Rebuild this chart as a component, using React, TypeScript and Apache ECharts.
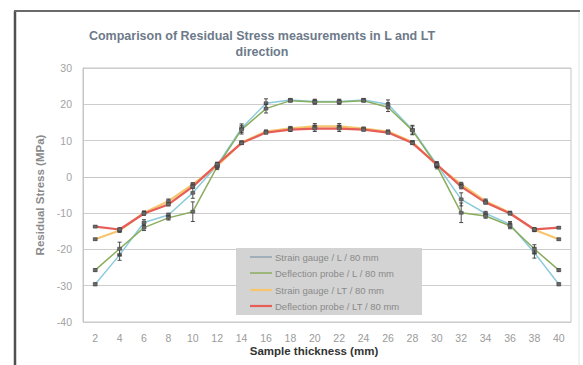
import React, { useEffect, useRef } from "react";
import * as echarts from "echarts";

const categories = ["2","4","6","8","10","12","14","16","18","20","22","24","26","28","30","32","34","36","38","40"];
const yTicks = [-40, -30, -20, -10, 0, 10, 20, 30];

const seriesNames = [
  "Strain gauge / L / 80 mm",
  "Deflection probe / L / 80 mm",
  "Strain gauge / LT / 80 mm",
  "Deflection probe / LT / 80 mm",
];
const strainL = [-29.6, -21.5, -12.6, -10.5, -4.4, 3.2, 13.4, 20.3, 21.2, 20.8, 20.8, 21.2, 20.0, 13.0, 3.4, -6.2, -10.1, -13.1, -20.9, -29.6];
const deflL = [-25.7, -19.8, -14.0, -11.3, -9.6, 2.8, 13.0, 18.8, 21.0, 20.6, 20.6, 21.0, 19.2, 12.8, 3.0, -9.9, -10.8, -13.5, -19.9, -25.7];
const strainLT = [-17.2, -14.8, -9.9, -6.7, -2.1, 3.0, 9.5, 12.5, 13.4, 13.9, 13.9, 13.3, 12.5, 9.6, 3.2, -2.1, -6.7, -9.9, -14.6, -17.2];
const deflLT = [-13.7, -14.5, -10.1, -7.6, -2.7, 3.5, 9.3, 12.2, 13.0, 13.3, 13.3, 13.0, 12.2, 9.3, 3.4, -2.7, -7.1, -10.1, -14.5, -14.0];

const errStrainL = [0.4, 1.5, 0.8, 0.5, 1.5, 0.8, 1.2, 1.2, 0.4, 0.6, 0.6, 0.4, 1.2, 1.2, 0.8, 1.8, 0.6, 0.8, 1.5, 0.4];
const errDeflL = [0.4, 1.8, 0.8, 0.6, 2.7, 0.8, 1.2, 1.2, 0.4, 0.6, 0.6, 0.4, 1.2, 1.2, 0.8, 2.7, 0.6, 0.8, 1.2, 0.4];
const errStrainLT = [0.3, 0.5, 0.5, 0.6, 0.5, 0.5, 0.4, 0.4, 0.5, 0.8, 0.8, 0.4, 0.4, 0.4, 0.6, 0.6, 0.6, 0.4, 0.5, 0.3];
const errDeflLT = [0.3, 0.5, 0.5, 0.4, 0.5, 0.5, 0.4, 0.4, 0.5, 0.8, 0.8, 0.4, 0.4, 0.4, 0.6, 0.6, 0.4, 0.4, 0.5, 0.3];

const colors = ["#8ccbdc", "#8aad5e", "#f6c56e", "#e65e57"];
const widths = [1.5, 1.5, 2.2, 2.2];

const allValues = [strainL, deflL, strainLT, deflLT];
const allErrors = [errStrainL, errDeflL, errStrainLT, errDeflLT];

export default function App() {
  const ref = useRef<HTMLDivElement>(null);
  useEffect(() => {
    if (!ref.current) return;
    const chart = echarts.init(ref.current, undefined, { renderer: "svg" });

    const lineSeries = allValues.map((vals, i) => ({
      name: seriesNames[i],
      type: "line",
      data: vals,
      showSymbol: false,
      symbol: "none",
      lineStyle: { color: colors[i], width: widths[i] },
      itemStyle: { color: colors[i] },
      z: 2 + i,
    }));

    const errSeries = allValues.map((vals, i) => ({
      type: "custom",
      z: 10,
      data: vals.map((v, j) => [j, v, v - allErrors[i][j], v + allErrors[i][j]]),
      renderItem: (params: any, api: any) => {
        const x = api.value(0);
        const c = api.coord([x, api.value(1)]);
        const lo = api.coord([x, api.value(2)]);
        const hi = api.coord([x, api.value(3)]);
        const cap = 2;
        const st = { stroke: "#3a3a3a", lineWidth: 0.9 };
        return {
          type: "group",
          children: [
            { type: "line", shape: { x1: c[0], y1: lo[1], x2: c[0], y2: hi[1] }, style: st },
            { type: "line", shape: { x1: c[0] - cap, y1: lo[1], x2: c[0] + cap, y2: lo[1] }, style: st },
            { type: "line", shape: { x1: c[0] - cap, y1: hi[1], x2: c[0] + cap, y2: hi[1] }, style: st },
            { type: "rect", shape: { x: c[0] - 2, y: c[1] - 1.5, width: 4, height: 3 }, style: { fill: "#6a6a6a", stroke: "#444", lineWidth: 0.5 } },
          ],
        };
      },
    }));

    const legendX = 236, legendY = 248;
    const rowYs = [257, 273, 290, 306];
    const legendGraphics: any[] = [
      { type: "rect", shape: { x: legendX, y: legendY, width: 186, height: 67 }, style: { fill: "#d3d3d3" }, z: 20 },
    ];
    seriesNames.forEach((n, i) => {
      legendGraphics.push({
        type: "line",
        shape: { x1: 250, y1: rowYs[i], x2: 272, y2: rowYs[i] },
        style: { stroke: i === 0 ? "#8fa3b0" : colors[i], lineWidth: widths[i] },
        z: 21,
      });
      legendGraphics.push({
        type: "text",
        x: 275,
        y: rowYs[i],
        style: { text: n, fill: "#8a8a8a", font: "9.5px Arial", textVerticalAlign: "middle" },
        z: 21,
      });
    });

    chart.setOption({
      animation: false,
      backgroundColor: "#ffffff",
      grid: { left: 83, top: 68, width: 488, height: 254, show: true, borderColor: "#c6c6c6", borderWidth: 1, backgroundColor: "transparent" },
      xAxis: {
        type: "category",
        data: categories,
        boundaryGap: true,
        axisLine: { show: true, lineStyle: { color: "#c6c6c6" } },
        axisTick: { show: false },
        axisLabel: { color: "#9a9a9a", fontSize: 10.5, fontFamily: "Arial", margin: 10 },
        splitLine: { show: false },
      },
      yAxis: {
        type: "value",
        min: yTicks[0],
        max: yTicks[yTicks.length - 1],
        interval: 10,
        name: "Residual Stress (MPa)",
        nameLocation: "middle",
        nameGap: 36,
        nameTextStyle: { color: "#8a8a8a", fontSize: 11.5, fontWeight: "bold", fontFamily: "Arial" },
        axisLine: { show: true, lineStyle: { color: "#c6c6c6" } },
        axisTick: { show: false },
        axisLabel: { color: "#a2a2a2", fontSize: 10.5, fontFamily: "Arial", margin: 11 },
        splitLine: { show: true, lineStyle: { color: "#cdcdcd", width: 1 } },
      },
      graphic: [
        { type: "line", shape: { x1: 15, y1: 11, x2: 15, y2: 365 }, style: { stroke: "#505050", lineWidth: 2.5 } },
        { type: "line", shape: { x1: 14, y1: 11, x2: 580, y2: 11 }, style: { stroke: "#6a6a6a", lineWidth: 2 } },
        { type: "line", shape: { x1: 579, y1: 12, x2: 579, y2: 365 }, style: { stroke: "#e4e4e4", lineWidth: 1 } },
        {
          type: "text", x: 262, y: 36,
          style: { text: "Comparison of Residual Stress measurements in L and LT", fill: "#6d7a8a", font: "bold 12.5px Arial", textAlign: "center", textVerticalAlign: "middle" },
        },
        {
          type: "text", x: 262, y: 52,
          style: { text: "direction", fill: "#6d7a8a", font: "bold 12.5px Arial", textAlign: "center", textVerticalAlign: "middle" },
        },
        {
          type: "text", x: 314, y: 351,
          style: { text: "Sample thickness (mm)", fill: "#333333", font: "bold 11.5px Arial", textAlign: "center", textVerticalAlign: "middle" },
        },
        ...legendGraphics,
      ],
      series: [...lineSeries, ...errSeries],
    });
    return () => chart.dispose();
  }, []);
  return <div ref={ref} style={{ position: "fixed", left: 0, top: 0, width: 583, height: 365 }} />;
}
